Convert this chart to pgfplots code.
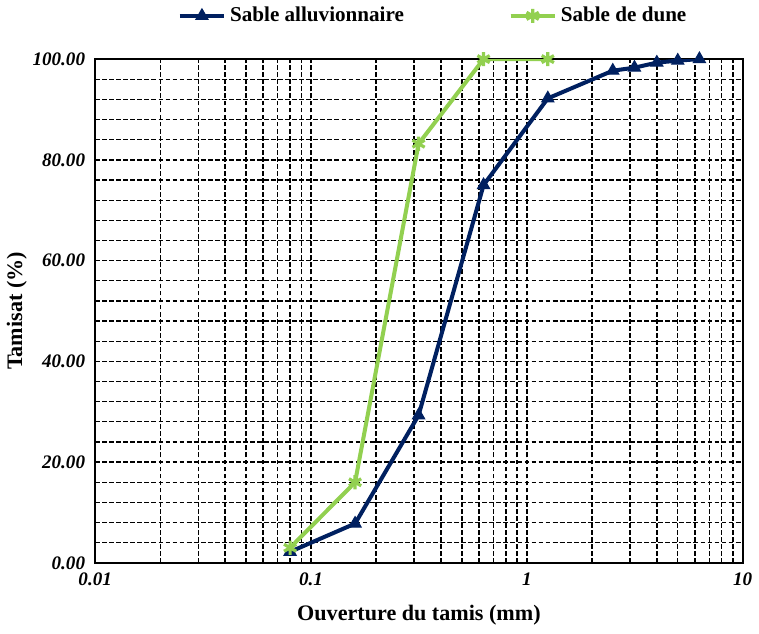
\documentclass[border=0pt]{standalone}
\usepackage{fontspec}
\setmainfont{Liberation Serif}
\usepackage{pgfplots}
\pgfplotsset{compat=1.18}
\definecolor{navy}{RGB}{0,32,96}
\definecolor{lgreen}{RGB}{146,208,80}
\begin{document}
\begin{tikzpicture}
\begin{axis}[
  xmode=log,
  scale only axis,
  width=322pt, height=250.5pt,
  xmin=0.01, xmax=10,
  ymin=0, ymax=100,
  xtick={0.01,0.1,1,10},
  xticklabels={0.01,0.1,1,10},
  ytick={0,20,40,60,80,100},
  minor y tick num=4,
  major tick length=0pt, minor tick length=0pt,
  grid=both,
  major grid style={black, line width=0.65pt, dash pattern=on 2.4pt off 1.1pt},
  minor grid style={black, line width=0.65pt, dash pattern=on 2.4pt off 1.1pt},
  axis line style={black, line width=0.8pt},
  tick label style={font=\fontsize{9.5}{11}\selectfont\bfseries\itshape},
  xticklabel style={yshift=-1.5pt},
  yticklabel style={xshift=-1.5pt},
  /pgf/number format/assume math mode=true,
  yticklabel style={/pgf/number format/fixed, /pgf/number format/fixed zerofill, /pgf/number format/precision=2},
  xlabel={Ouverture du tamis (mm)},
  ylabel={Tamisat (\%)},
  label style={font=\fontsize{11}{13}\selectfont\bfseries},
  xlabel style={yshift=-2pt, inner ysep=4pt},
  ylabel style={yshift=-4pt},
  legend columns=2,
  legend style={draw=none, fill=none, at={(axis description cs:0.127,1)}, anchor=west, yshift=21.5pt,
    font=\fontsize{10.5}{12}\selectfont\bfseries, /tikz/every even column/.append style={column sep=50pt},
    inner xsep=0pt, inner ysep=1.5pt},
  legend image code/.code={\draw[#1] (0pt,0pt) -- (22pt,0pt); \draw[#1, mark repeat=2, mark phase=2] plot coordinates {(0pt,0pt) (11pt,0pt) (22pt,0pt)};},
]
\addplot[navy, line width=2pt, mark=triangle*, mark size=3.5pt, mark options={solid, line width=0.5pt}] coordinates {
 (0.08,2.2) (0.16,7.8) (0.315,29.3) (0.63,75.0) (1.25,92.2) (2.5,97.7) (3.15,98.3) (4,99.3) (5,99.7) (6.3,100)
};
\addlegendentry{Sable alluvionnaire}
\addplot[lgreen, line width=2pt, mark=asterisk, mark size=3.5pt, mark options={solid, line width=1.6pt}] coordinates {
 (0.08,3.0) (0.16,16.0) (0.315,83.2) (0.63,100) (1.25,100)
};
\addlegendentry{Sable de dune}
\end{axis}
\end{tikzpicture}
\end{document}
